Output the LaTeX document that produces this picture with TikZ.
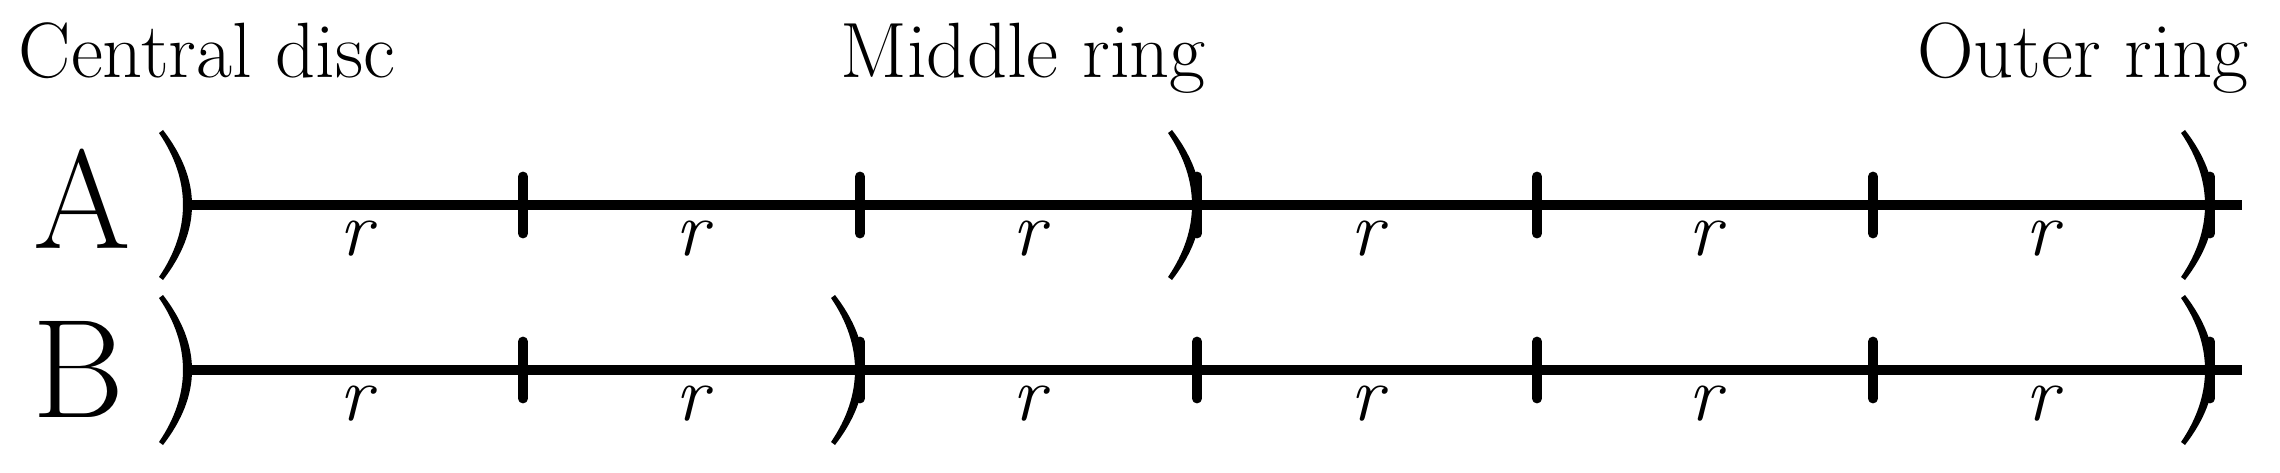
\documentclass[tikz,border=0pt]{standalone}

\tikzset{
	ringline/.style={line width=3.1pt},
	ringname/.style={inner sep=0pt, font=\fontsize{22.3}{26}\selectfont},
	rowname/.style={inner sep=0pt, anchor=base, font=\fontsize{40}{48}\selectfont},
	lenlabel/.style={inner sep=0pt, anchor=base, midway, shift={(0,50)}, font=\fontsize{22.3}{26}\selectfont\itshape},
	ringtick/.pic={\draw[line width=2.8pt, line cap=round] (0,-28.5) -- (0,28.5);},
	ringedge/.pic={\fill (-25,-75) .. controls (13.7,-25) and (13.7,25) .. (-25,75) -- (-29,72) .. controls (3,25) and (3,-25) .. (-29,-72) -- cycle;}
}

\begin{document}
\begin{tikzpicture}[x=0.01cm, y=-0.01cm]
		\useasboundingbox (0,0) rectangle (2280,473);

		\node [ringname, anchor=base west](central) at (18,78) {Central disc};
		\node [ringname, anchor=base west](middle) at (840,78) {Middle ring};
		\node [ringname, anchor=base east](outer) at (2249,78) {Outer ring};

		\node [rowname](rowA) at (82,248) {A};
		\node [rowname](rowB) at (78,417) {B};

		% row A
		\coordinate (A0) at (188,205);
		\coordinate (A1) at (523,205);
		\coordinate (A2) at (860,205);
		\coordinate (A3) at (1197,205);
		\coordinate (A4) at (1537,205);
		\coordinate (A5) at (1873,205);
		\coordinate (A6) at (2210,205);
		\coordinate (Aend) at (2242,205);
		\draw [ringline](A0)--(Aend);
		\pic at (A0) {ringedge};
		\pic at (A1) {ringtick};
		\pic at (A2) {ringtick};
		\pic at (A3) {ringtick};
		\pic at (A3) {ringedge};
		\pic at (A4) {ringtick};
		\pic at (A5) {ringtick};
		\pic at (A6) {ringtick};
		\pic at (A6) {ringedge};
		\path (A0) -- (A1) node (rA1)[lenlabel]{r};
		\path (A1) -- (A2) node (rA2)[lenlabel]{r};
		\path (A2) -- (A3) node (rA3)[lenlabel]{r};
		\path (A3) -- (A4) node (rA4)[lenlabel]{r};
		\path (A4) -- (A5) node (rA5)[lenlabel]{r};
		\path (A5) -- (A6) node (rA6)[lenlabel]{r};

		% row B
		\coordinate (B0) at (188,370);
		\coordinate (B1) at (523,370);
		\coordinate (B2) at (860,370);
		\coordinate (B3) at (1197,370);
		\coordinate (B4) at (1537,370);
		\coordinate (B5) at (1873,370);
		\coordinate (B6) at (2210,370);
		\coordinate (Bend) at (2242,370);
		\draw [ringline](B0)--(Bend);
		\pic at (B0) {ringedge};
		\pic at (B1) {ringtick};
		\pic at (B2) {ringtick};
		\pic at (B2) {ringedge};
		\pic at (B3) {ringtick};
		\pic at (B4) {ringtick};
		\pic at (B5) {ringtick};
		\pic at (B6) {ringtick};
		\pic at (B6) {ringedge};
		\path (B0) -- (B1) node (rB1)[lenlabel]{r};
		\path (B1) -- (B2) node (rB2)[lenlabel]{r};
		\path (B2) -- (B3) node (rB3)[lenlabel]{r};
		\path (B3) -- (B4) node (rB4)[lenlabel]{r};
		\path (B4) -- (B5) node (rB5)[lenlabel]{r};
		\path (B5) -- (B6) node (rB6)[lenlabel]{r};
	\end{tikzpicture}
\end{document}
